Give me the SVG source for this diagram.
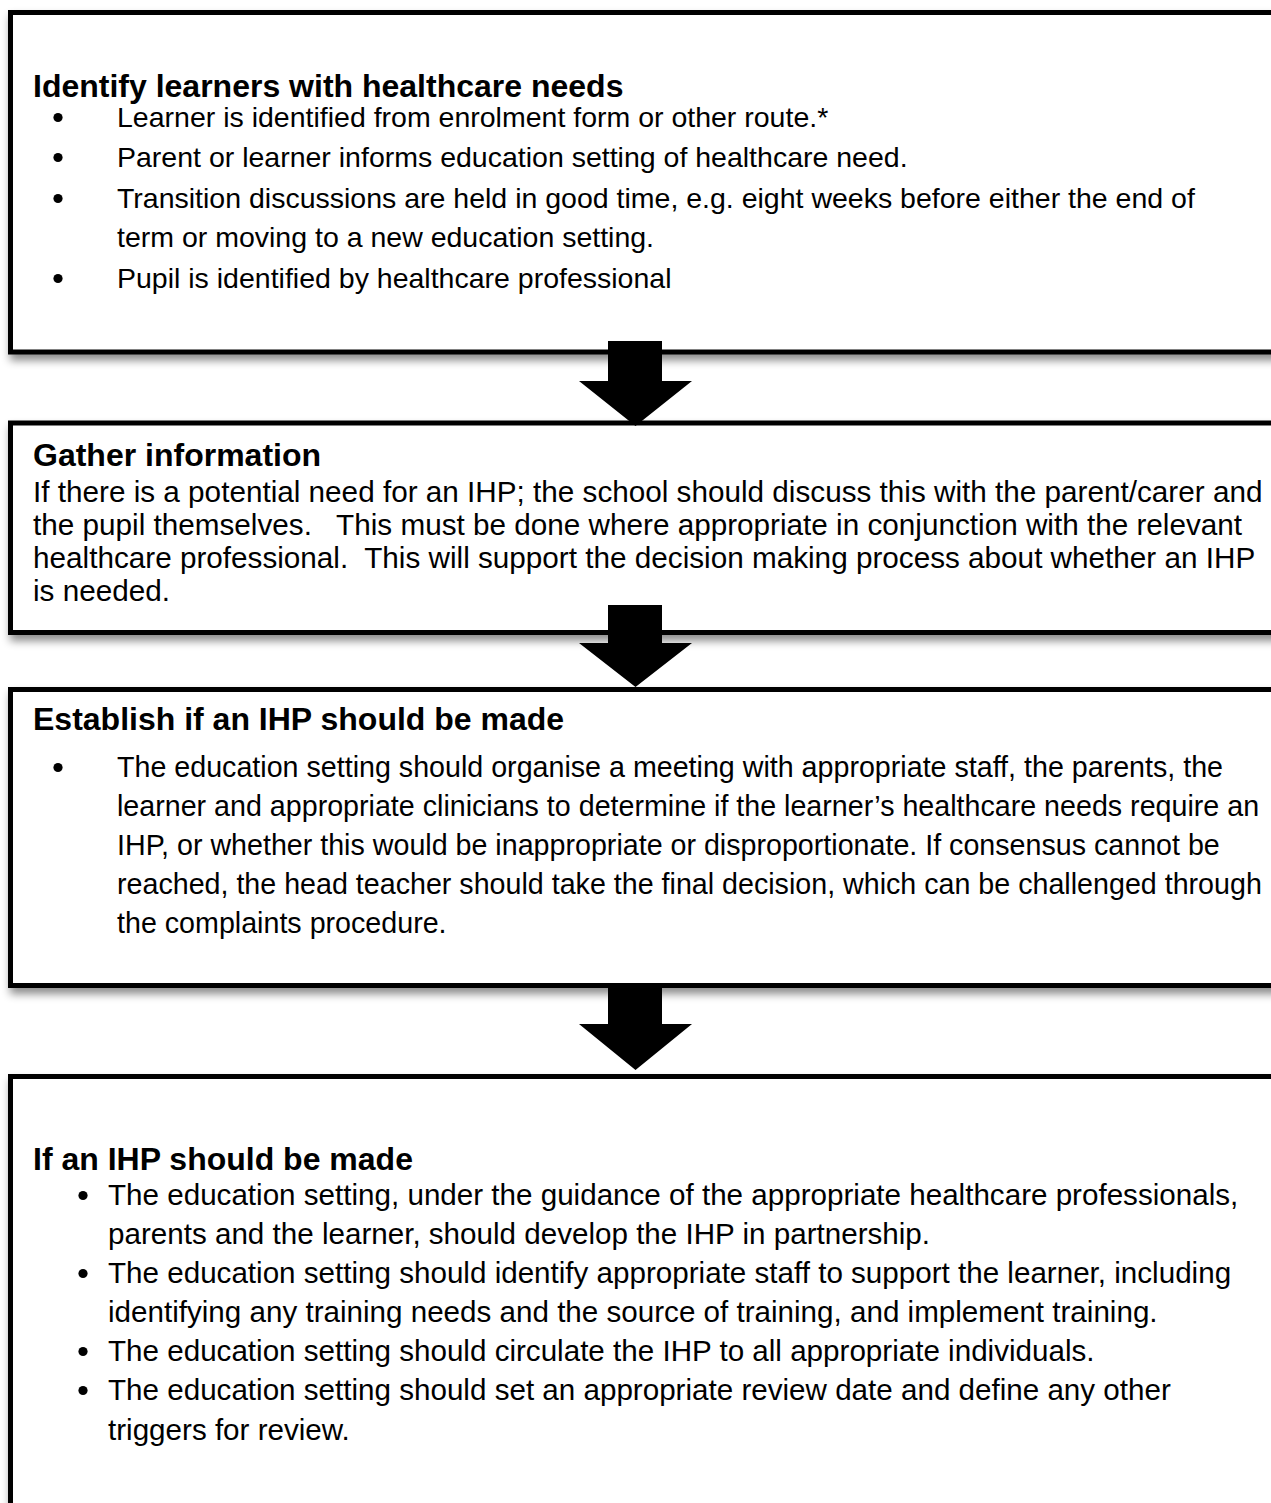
<svg xmlns="http://www.w3.org/2000/svg" width="1271" height="1503" viewBox="0 0 1271 1503">
<defs>
<filter id="sh" x="-5%" y="-10%" width="115%" height="130%">
<feDropShadow dx="2" dy="6" stdDeviation="4" flood-color="#000" flood-opacity="0.45"/>
</filter>
</defs>
<style>
.box{fill:#fff;stroke:#000;stroke-width:5;filter:url(#sh)}
.t{font-family:"Liberation Sans",Arial,sans-serif;font-size:28.5px;fill:#000;white-space:pre}
.t2{font-size:29.7px}
.t3{font-size:28.65px}
.t4{font-size:29.6px}
.h{font-family:"Liberation Sans",Arial,sans-serif;font-size:32px;font-weight:bold;fill:#000}
.b{fill:#000}
.arrow{fill:#000}
</style>
<rect width="1271" height="1503" fill="#fff"/>
<g id="node1">
<rect class="box" x="10.5" y="12.5" width="1300" height="339.5"/>
<text class="h" x="33" y="97">Identify learners with healthcare needs</text>
<circle class="b" cx="58" cy="117.5" r="4.6"/>
<text class="t" x="117" y="127">Learner is identified from enrolment form or other route.*</text>
<circle class="b" cx="58" cy="157.5" r="4.6"/>
<text class="t" x="117" y="167">Parent or learner informs education setting of healthcare need.</text>
<circle class="b" cx="58" cy="198.5" r="4.6"/>
<text class="t" x="117" y="208">Transition discussions are held in good time, e.g. eight weeks before either the end of</text>
<text class="t" x="117" y="247">term or moving to a new education setting.</text>
<circle class="b" cx="58" cy="278.5" r="4.6"/>
<text class="t" x="117" y="288">Pupil is identified by healthcare professional</text>
</g>
<g id="node2">
<rect class="box" x="10.5" y="423" width="1300" height="209.5"/>
<text class="h" x="33" y="466">Gather information</text>
<text class="t t2" x="33" y="502">If there is a potential need for an IHP; the school should discuss this with the parent/carer and</text>
<text class="t t2" x="33" y="535">the pupil themselves.   This must be done where appropriate in conjunction with the relevant</text>
<text class="t t2" x="33" y="568">healthcare professional.  This will support the decision making process about whether an IHP</text>
<text class="t t2" x="33" y="601">is needed.</text>
</g>
<g id="node3">
<rect class="box" x="10.5" y="689.5" width="1300" height="296"/>
<text class="h" x="33" y="730">Establish if an IHP should be made</text>
<circle class="b" cx="58" cy="767.5" r="4.6"/>
<text class="t t3" x="117" y="777">The education setting should organise a meeting with appropriate staff, the parents, the</text>
<text class="t t3" x="117" y="816">learner and appropriate clinicians to determine if the learner’s healthcare needs require an</text>
<text class="t t3" x="117" y="855">IHP, or whether this would be inappropriate or disproportionate. If consensus cannot be</text>
<text class="t t3" x="117" y="894">reached, the head teacher should take the final decision, which can be challenged through</text>
<text class="t t3" x="117" y="933">the complaints procedure.</text>
</g>
<g id="node4">
<rect class="box" x="10.5" y="1076.5" width="1300" height="500"/>
<text class="h" x="33" y="1170">If an IHP should be made</text>
<circle class="b" cx="83" cy="1195.5" r="4.6"/>
<text class="t t4" x="108" y="1205">The education setting, under the guidance of the appropriate healthcare professionals,</text>
<text class="t t4" x="108" y="1244">parents and the learner, should develop the IHP in partnership.</text>
<circle class="b" cx="83" cy="1273.5" r="4.6"/>
<text class="t t4" x="108" y="1283">The education setting should identify appropriate staff to support the learner, including</text>
<text class="t t4" x="108" y="1322">identifying any training needs and the source of training, and implement training.</text>
<circle class="b" cx="83" cy="1351.5" r="4.6"/>
<text class="t t4" x="108" y="1361">The education setting should circulate the IHP to all appropriate individuals.</text>
<circle class="b" cx="83" cy="1390.5" r="4.6"/>
<text class="t t4" x="108" y="1400">The education setting should set an appropriate review date and define any other</text>
<text class="t t4" x="108" y="1440">triggers for review.</text>
</g>
<g id="connectors">
<polygon class="arrow" points="608,341 662,341 662,381 692,381 635.5,426 579,381 608,381"/>
<polygon class="arrow" points="608,605 662,605 662,643 692,643 635.5,687 579,643 608,643"/>
<polygon class="arrow" points="608,985 662,985 662,1024 692,1024 635.5,1070 579,1024 608,1024"/>
</g>
</svg>
